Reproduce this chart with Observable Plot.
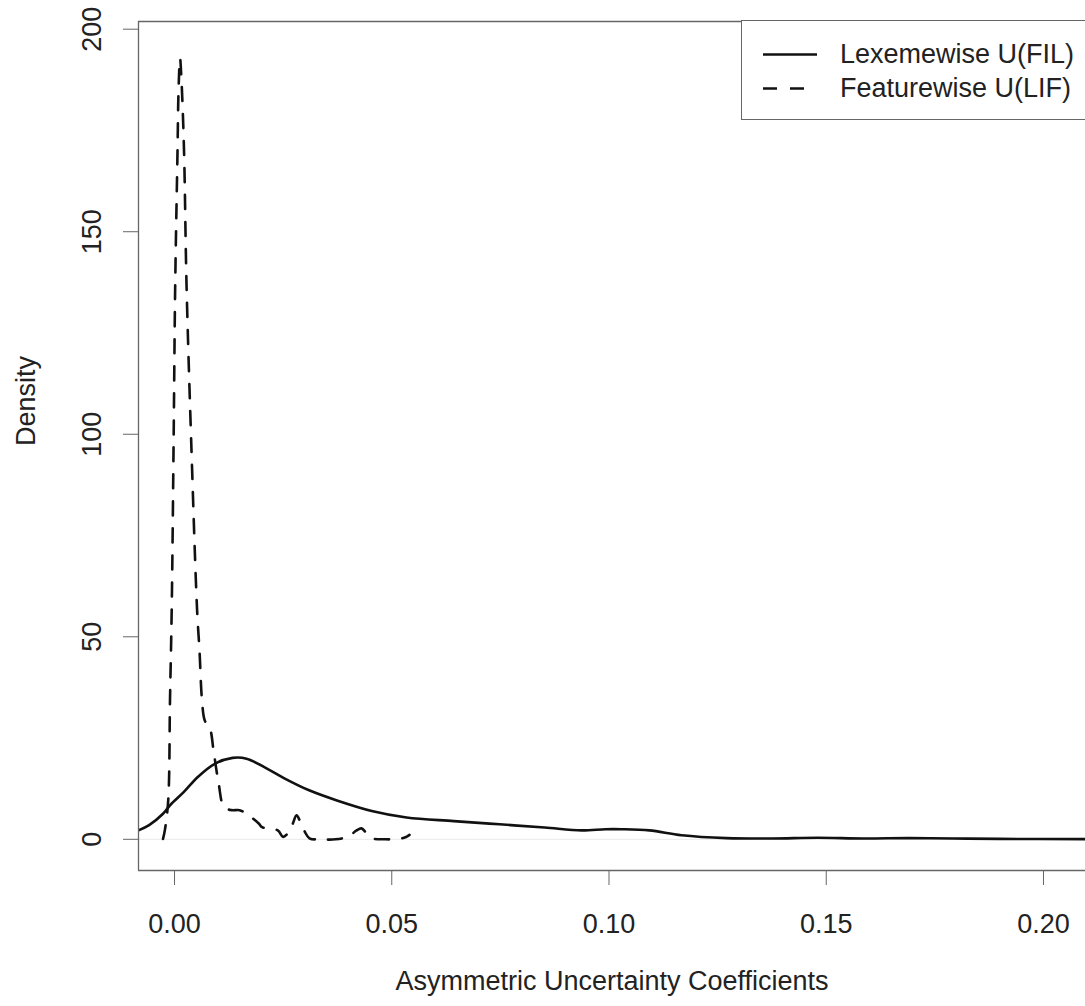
<!DOCTYPE html>
<html>
<head>
<meta charset="utf-8">
<script src="https://cdn.jsdelivr.net/npm/d3@7"></script>
<script src="https://cdn.jsdelivr.net/npm/@observablehq/plot@0.6"></script>
<style>
  body { margin: 0; background: #fff; }
  #wrap { position: relative; width: 1085px; height: 1006px; overflow: hidden;
          font-family: "Liberation Sans", Arial, sans-serif; color: #222; }
  #legend { position: absolute; left: 741px; top: 20px; width: 420px; height: 100px;
            border: 1.3px solid #666; background: #fff; box-sizing: border-box; }
  .lrow { position: absolute; left: 840px; height: 30px; line-height: 30px; font-size: 27px;
          white-space: nowrap; color: #222; }
  .lsym { position: absolute; left: 763px; width: 54px; height: 30px; overflow: visible; }
</style>
</head>
<body>
<div id="wrap"></div>
<script>
// ---- data ----
const xTicks = [0.00, 0.05, 0.10, 0.15, 0.20];
const yTicks = [0, 50, 100, 150, 200];
const xTitle = "Asymmetric Uncertainty Coefficients";
const yTitle = "Density";
const seriesNames = ["Lexemewise U(FIL)", "Featurewise U(LIF)"];

// Lexemewise U(FIL) — solid
const lexX = [-0.00829, -0.00585, -0.00265, -0.00104, 0.00216, 0.00536, 0.00937, 0.01337, 0.01657,
  0.02138, 0.02539, 0.03098, 0.03738, 0.04539, 0.0534, 0.0643, 0.0748, 0.0852, 0.0937, 0.0992,
  0.1030, 0.1093, 0.1167, 0.1270, 0.1376, 0.1480, 0.1585, 0.1690, 0.1793, 0.1899, 0.2097];
const lexY = [2.2, 3.5, 6.3, 8.4, 11.7, 15.4, 18.7, 20.1, 19.9,
  17.4, 15.0, 12.1, 9.6, 7.0, 5.4, 4.5, 3.7, 2.9, 2.2, 2.5,
  2.5, 2.2, 1.0, 0.3, 0.2, 0.4, 0.2, 0.3, 0.2, 0.1, 0.05];

// Featurewise U(LIF) — dashed
const featX = [-0.00265, -0.00223, -0.00145, -0.00104, -0.00064, -0.00023, 0.00016, 0.00069, 0.00092,
  0.00127, 0.00161, 0.00219, 0.00276, 0.00391, 0.0052, 0.00575, 0.00633, 0.00697, 0.00817, 0.00898,
  0.01017, 0.01137, 0.01312, 0.01496, 0.01657, 0.01938, 0.02016, 0.02377, 0.02497, 0.02624, 0.02716,
  0.02808, 0.02900, 0.02992, 0.03107, 0.0336, 0.03705, 0.04005, 0.04189, 0.04304, 0.04419, 0.04557,
  0.04856, 0.05155, 0.05316, 0.05408];
const featY = [0.1, 2.2, 9.6, 34.3, 57.2, 95.9, 137.1, 169.9, 184.7,
  192.8, 187.2, 169.9, 137.1, 95.9, 56.5, 46.6, 34.3, 29.3, 27.3, 21.9,
  13.7, 8.0, 7.2, 7.2, 6.3, 3.9, 3.0, 2.2, 0.6, 1.7, 3.7,
  5.9, 4.2, 2.0, 0.25, 0, 0, 0.7, 2.2, 2.7, 1.5, 0.25,
  0, 0.1, 0.5, 1.1];

// ---- build ----
const lex = lexX.map((x, i) => ({x, y: lexY[i]}));
const feat = featX.map((x, i) => ({x, y: featY[i]}));
const xDomain = [-0.00829, 0.20967];
const yDomain = [-7.7, 201.9];
const dash = "14,13";
const axisColor = "#666";

const chart = Plot.plot({
  width: 1085, height: 1006,
  marginLeft: 138, marginRight: 0, marginTop: 21, marginBottom: 136,
  x: {domain: xDomain, label: null},
  y: {domain: yDomain, label: null},
  style: {fontFamily: "'Liberation Sans', Arial, sans-serif", fontSize: "27px", color: "#222", background: "white"},
  marks: [
    Plot.ruleY([0], {stroke: "#e9e9e9", strokeWidth: 1}),
    Plot.line(lex, {x: "x", y: "y", stroke: "#111", strokeWidth: 2.6, curve: "catmull-rom", clip: true}),
    Plot.line(feat, {x: "x", y: "y", stroke: "#111", strokeWidth: 2.6, strokeDasharray: dash, curve: "catmull-rom", clip: true}),
    Plot.ruleX([xDomain[0]], {stroke: axisColor, strokeWidth: 1.3}),
    Plot.ruleY([yDomain[0], yDomain[1]], {stroke: axisColor, strokeWidth: 1.3}),
    Plot.axisX(xTicks, {label: null, tickSize: 15, tickPadding: 28, tickFormat: d3.format(".2f"), stroke: axisColor, fill: "#222"}),
    Plot.axisY(yTicks, {label: null, tickSize: 15, tickPadding: 23, tickRotate: -90, tickFormat: d3.format("d"), stroke: axisColor, fill: "#222"}),
    Plot.text([xTitle], {text: d => d, frameAnchor: "bottom", dy: 119, fill: "#222"}),
    Plot.text([yTitle], {text: d => d, frameAnchor: "left", dx: -112, rotate: -90, fill: "#222"})
  ]
});

const wrap = document.getElementById("wrap");
wrap.appendChild(chart);

// legend (inside plot area, top-right, as in the reference)
const legend = document.createElement("div");
legend.id = "legend";
wrap.appendChild(legend);
const rowTops = [39, 72.5];
seriesNames.forEach((name, i) => {
  const sym = document.createElementNS("http://www.w3.org/2000/svg", "svg");
  sym.setAttribute("class", "lsym");
  sym.style.top = (rowTops[i]) + "px";
  sym.setAttribute("width", 54); sym.setAttribute("height", 30);
  const ln = document.createElementNS("http://www.w3.org/2000/svg", "line");
  ln.setAttribute("x1", 0); ln.setAttribute("x2", 54);
  ln.setAttribute("y1", 15.5); ln.setAttribute("y2", 15.5);
  ln.setAttribute("stroke", "#111"); ln.setAttribute("stroke-width", 2.6);
  if (i === 1) ln.setAttribute("stroke-dasharray", dash);
  sym.appendChild(ln);
  wrap.appendChild(sym);
  const t = document.createElement("div");
  t.className = "lrow";
  t.style.top = rowTops[i] + "px";
  t.textContent = name;
  wrap.appendChild(t);
});
</script>
</body>
</html>
